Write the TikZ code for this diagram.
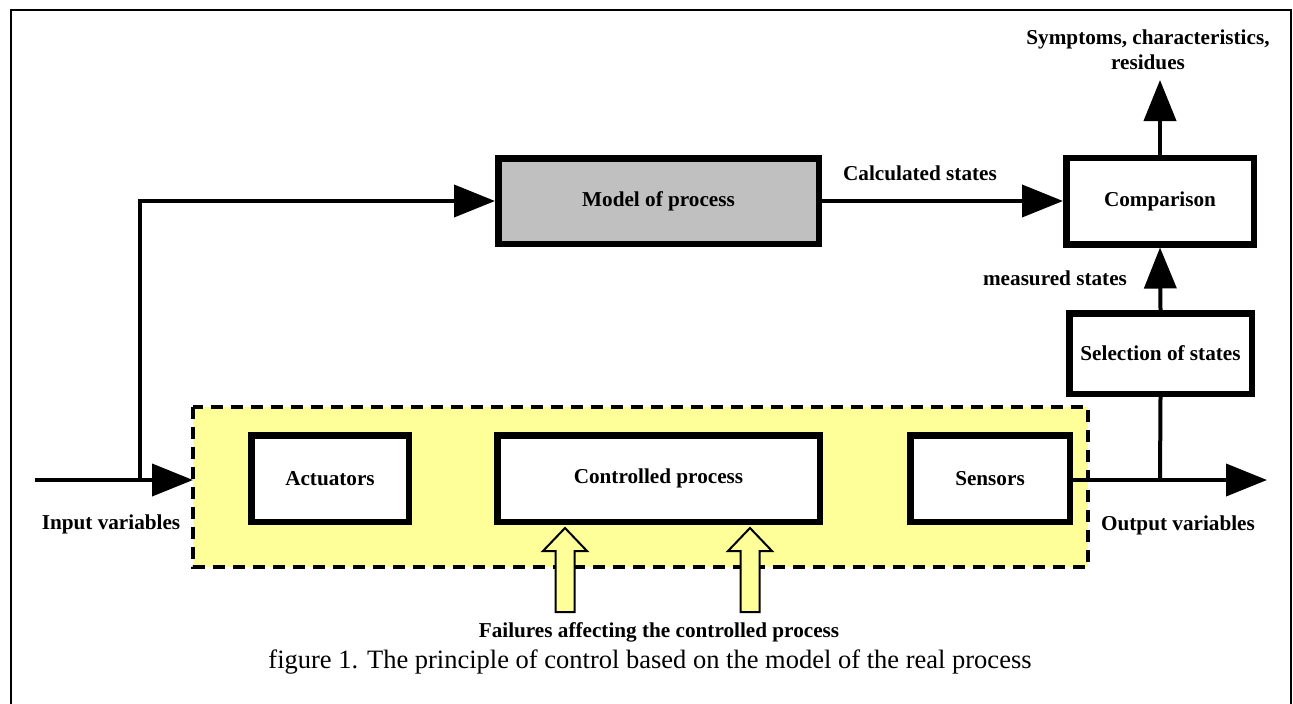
\documentclass[tikz,border=0pt]{standalone}
\usepackage{fontspec}
\setmainfont{Liberation Serif}
\usetikzlibrary{arrows.meta}
\begin{document}
\begin{tikzpicture}[x=1pt,y=-1pt,
  lbl/.style={font=\fontsize{21.2}{25}\selectfont\bfseries, inner sep=0pt, align=center},
  blk/.style={draw, line width=6.5pt, fill=white, lbl, minimum width=#1},
  conn/.style={line width=4pt, -{Triangle[length=41pt,width=32pt]}},
  plain/.style={line width=4pt},
  hollow/.style={draw, line width=2pt, fill=yellowfill, line join=miter}]
\definecolor{yellowfill}{RGB}{255,255,153}
\definecolor{modelgray}{RGB}{192,192,192}
\useasboundingbox (0,0) rectangle (1293,704);
% outer frame
\draw[line width=2pt] (11,720) -- (11,10) -- (1291,10) -- (1291,720);
% dashed process region
\draw[line width=3.5pt, dash pattern=on 12pt off 8pt, fill=yellowfill] (193,407) rectangle (1088,567);
% blocks
\node[blk=320.5pt, minimum height=85.5pt, fill=modelgray] (model) at (658.5,201) {Model of process};
\node[blk=187.5pt, minimum height=86.5pt] (comp) at (1160,201) {Comparison};
\node[blk=182.5pt, minimum height=80.5pt] (sel) at (1160.5,353.5) {Selection of states};
\node[blk=157.5pt, minimum height=86.5pt] (act) at (330,478.5) {Actuators};
\node[blk=322.5pt, minimum height=86.5pt] (ctrl) at (658.5,478.5) {Controlled process};
\node[blk=159.5pt, minimum height=86.5pt] (sens) at (990,478.5) {Sensors};
% coordinates
\coordinate (inStart) at (35,480);
\coordinate (inJoin) at (140,480);
\coordinate (inCorner) at (140,201);
\coordinate (boxIn) at (193,480);
\coordinate (outJoin) at (1160,480);
\coordinate (outEnd) at (1267,480);
\coordinate (symEnd) at (1160,80);
% connectors
\draw[conn] (inStart) -- (boxIn);
\draw[conn] (inJoin) -- (inCorner) -- (model.west);
\draw[conn] (model.east) -- (comp.west);
\draw[conn] (comp.north) -- (symEnd);
\draw[conn] (sel.north) -- (comp.south);
\draw[plain] (sel.south) -- (outJoin);
\draw[conn] (sens.east |- outJoin) -- (outEnd);
% failure arrows
\foreach \cx in {565, 750} {
  \draw[hollow] (\cx,528) -- (\cx+22,551) -- (\cx+9.5,551) -- (\cx+9.5,612)
     -- (\cx-9.5,612) -- (\cx-9.5,551) -- (\cx-22,551) -- cycle;
}
% labels
\node[lbl] (calc) at (920,173) {Calculated states};
\node[lbl] (meas) at (1055,278) {measured states};
\node[lbl] (symp) at (1148,50) {Symptoms, characteristics,\\residues};
\node[lbl] (inl) at (111,524) {Input variables};
\node[lbl] (outl) at (1178,525) {Output variables};
\node[lbl] (fail) at (659,632) {Failures affecting the controlled process};
\node[inner sep=0pt, font=\fontsize{26.5}{30}\selectfont] (cap) at (650,662) {figure 1. The principle of control based on the model of the real process};
\end{tikzpicture}
\end{document}
